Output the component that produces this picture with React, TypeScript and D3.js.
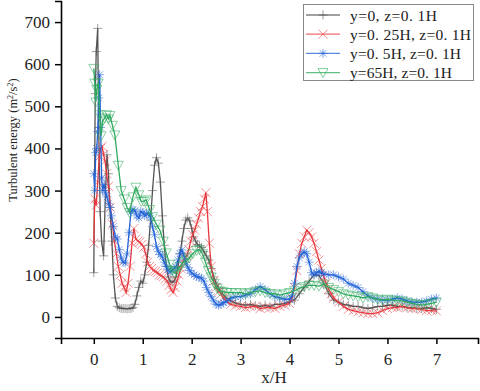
import React, { useEffect, useRef } from "react";
import * as d3 from "d3";

const W = 480;
const H = 391;
const margin = { top: 1, right: 2, bottom: 53, left: 61 };

// series: y=0, z=0.1H
const xBlack = [0.0, 0.03, 0.05, 0.08, 0.1, 0.13, 0.16, 0.2, 0.24, 0.27, 0.3, 0.33, 0.37, 0.4, 0.44, 0.48, 0.52, 0.56, 0.6, 0.64, 0.68, 0.72, 0.76, 0.8, 0.84, 0.88, 0.92, 0.96, 1.0, 1.04, 1.08, 1.12, 1.16, 1.2, 1.24, 1.28, 1.32, 1.36, 1.4, 1.44, 1.48, 1.52, 1.56, 1.6, 1.64, 1.68, 1.72, 1.76, 1.8, 1.84, 1.88, 1.92, 1.96, 2.0, 2.04, 2.08, 2.12, 2.16, 2.2, 2.25, 2.3, 2.35, 2.4, 2.45, 2.5, 2.55, 2.6, 2.7, 2.8, 2.9, 3.0, 3.1, 3.2, 3.3, 3.4, 3.5, 3.6, 3.7, 3.8, 3.9, 4.0, 4.1, 4.2, 4.3, 4.4, 4.5, 4.6, 4.7, 4.8, 4.9, 5.0, 5.1, 5.2, 5.3, 5.4, 5.5, 5.6, 5.7, 5.8, 5.9, 6.0, 6.1, 6.2, 6.3, 6.4, 6.5, 6.6, 6.7, 6.8, 6.9, 7.0];
const yBlack = [105, 530, 630, 685, 450, 250, 180, 145, 300, 385, 340, 260, 180, 100, 45, 25, 22, 20, 20, 20, 19, 20, 20, 22, 30, 50, 70, 85, 80, 100, 130, 170, 230, 300, 360, 378, 365, 320, 240, 170, 120, 95, 85, 82, 85, 95, 120, 150, 180, 210, 230, 235, 228, 210, 190, 180, 172, 168, 165, 155, 145, 135, 115, 95, 80, 68, 60, 45, 38, 33, 30, 28, 30, 27, 25, 28, 25, 30, 30, 32, 35, 40, 55, 70, 85, 100, 98, 80, 55, 40, 35, 30, 28, 25, 25, 22, 20, 22, 25, 25, 28, 28, 25, 25, 22, 22, 20, 20, 22, 20, 18];

// series: y=0.25H, z=0.1H
const xRed = [0.0, 0.02, 0.05, 0.08, 0.11, 0.14, 0.17, 0.2, 0.23, 0.26, 0.3, 0.34, 0.38, 0.42, 0.46, 0.5, 0.54, 0.58, 0.62, 0.66, 0.7, 0.74, 0.78, 0.82, 0.86, 0.9, 0.94, 0.98, 1.02, 1.06, 1.1, 1.14, 1.18, 1.22, 1.26, 1.3, 1.34, 1.38, 1.42, 1.46, 1.5, 1.54, 1.58, 1.62, 1.66, 1.7, 1.74, 1.78, 1.82, 1.86, 1.9, 1.94, 1.98, 2.02, 2.06, 2.1, 2.14, 2.18, 2.22, 2.26, 2.29, 2.32, 2.36, 2.4, 2.45, 2.5, 2.55, 2.6, 2.65, 2.7, 2.8, 2.9, 3.0, 3.1, 3.2, 3.3, 3.4, 3.5, 3.6, 3.7, 3.8, 3.9, 4.0, 4.05, 4.1, 4.15, 4.2, 4.25, 4.3, 4.35, 4.4, 4.45, 4.5, 4.55, 4.6, 4.65, 4.7, 4.75, 4.8, 4.85, 4.9, 5.0, 5.1, 5.2, 5.3, 5.4, 5.5, 5.6, 5.7, 5.8, 5.9, 6.0, 6.1, 6.2, 6.3, 6.4, 6.5, 6.6, 6.7, 6.8, 6.9, 7.0];
const yRed = [175, 280, 265, 320, 380, 400, 405, 385, 370, 340, 310, 260, 220, 180, 150, 120, 100, 80, 70, 58, 80, 120, 175, 210, 185, 180, 178, 172, 165, 150, 130, 120, 115, 110, 108, 105, 100, 98, 95, 90, 85, 75, 65, 58, 70, 85, 100, 115, 130, 140, 145, 160, 180, 195, 206, 220, 235, 250, 262, 280, 295, 250, 175, 120, 85, 70, 60, 55, 45, 38, 30, 27, 25, 22, 24, 25, 20, 22, 22, 20, 25, 28, 32, 45, 70, 110, 150, 175, 190, 206, 200, 190, 175, 155, 135, 115, 95, 80, 65, 55, 45, 35, 25, 18, 15, 12, 10, 8, 8, 10, 15, 20, 22, 22, 25, 22, 20, 20, 18, 15, 15, 14];

// series: y=0.5H, z=0.1H
const xBlue = [0.0, 0.02, 0.04, 0.06, 0.08, 0.1, 0.12, 0.14, 0.16, 0.18, 0.21, 0.24, 0.27, 0.3, 0.33, 0.36, 0.4, 0.44, 0.48, 0.52, 0.56, 0.6, 0.64, 0.68, 0.72, 0.76, 0.8, 0.84, 0.88, 0.92, 0.96, 1.0, 1.04, 1.08, 1.12, 1.16, 1.2, 1.24, 1.28, 1.32, 1.36, 1.4, 1.44, 1.48, 1.52, 1.56, 1.6, 1.64, 1.68, 1.72, 1.76, 1.8, 1.84, 1.88, 1.92, 1.96, 2.0, 2.05, 2.1, 2.15, 2.2, 2.25, 2.3, 2.35, 2.4, 2.45, 2.5, 2.55, 2.6, 2.65, 2.7, 2.8, 2.9, 3.0, 3.1, 3.2, 3.3, 3.4, 3.5, 3.6, 3.7, 3.8, 3.9, 4.0, 4.05, 4.1, 4.15, 4.2, 4.25, 4.3, 4.35, 4.4, 4.45, 4.5, 4.55, 4.6, 4.65, 4.7, 4.8, 4.9, 5.0, 5.1, 5.2, 5.3, 5.4, 5.5, 5.6, 5.7, 5.8, 5.9, 6.0, 6.1, 6.2, 6.3, 6.4, 6.5, 6.6, 6.7, 6.8, 6.9, 7.0];
const yBlue = [340, 300, 390, 400, 440, 520, 575, 450, 330, 300, 315, 295, 285, 270, 260, 240, 215, 190, 185, 160, 140, 130, 128, 150, 200, 250, 255, 252, 240, 235, 250, 248, 240, 245, 246, 235, 214, 195, 167, 155, 148, 143, 130, 120, 112, 107, 110, 115, 119, 135, 150, 159, 145, 130, 118, 110, 104, 100, 96, 94, 92, 85, 70, 58, 48, 38, 30, 28, 30, 34, 36, 44, 48, 48, 52, 55, 65, 72, 65, 55, 48, 45, 42, 42, 50, 80, 120, 140, 150, 155, 150, 130, 105, 100, 105, 108, 105, 102, 100, 100, 95, 90, 80, 75, 70, 60, 50, 45, 42, 40, 40, 42, 45, 42, 38, 35, 35, 35, 38, 42, 45];

// series: y=65H, z=0.1H
const xGreen = [0.0, 0.02, 0.04, 0.06, 0.09, 0.12, 0.15, 0.18, 0.22, 0.26, 0.3, 0.33, 0.38, 0.43, 0.5, 0.56, 0.62, 0.68, 0.73, 0.8, 0.86, 0.92, 0.97, 1.02, 1.07, 1.14, 1.2, 1.28, 1.35, 1.42, 1.48, 1.55, 1.6, 1.65, 1.7, 1.77, 1.83, 1.89, 1.95, 2.02, 2.1, 2.16, 2.22, 2.28, 2.34, 2.4, 2.46, 2.52, 2.57, 2.64, 2.72, 2.8, 2.9, 3.0, 3.1, 3.2, 3.3, 3.4, 3.5, 3.6, 3.7, 3.8, 3.9, 4.0, 4.1, 4.2, 4.3, 4.4, 4.5, 4.6, 4.7, 4.8, 4.9, 5.0, 5.1, 5.2, 5.3, 5.4, 5.5, 5.6, 5.7, 5.8, 5.9, 6.0, 6.1, 6.2, 6.3, 6.4, 6.5, 6.6, 6.7, 6.8, 6.9, 7.0];
const yGreen = [590, 555, 510, 540, 555, 480, 430, 465, 472, 480, 470, 478, 455, 432, 360, 300, 280, 260, 248, 285, 308, 290, 274, 275, 278, 255, 238, 220, 206, 180, 152, 125, 110, 104, 110, 120, 130, 135, 140, 150, 158, 160, 150, 130, 110, 95, 80, 68, 62, 60, 58, 58, 57, 58, 55, 58, 60, 62, 58, 55, 55, 52, 55, 58, 62, 68, 72, 75, 75, 73, 78, 70, 65, 60, 55, 52, 50, 48, 45, 48, 45, 42, 40, 42, 40, 38, 38, 35, 32, 30, 28, 30, 32, 35];

const seriesNames = ["y=0, z=0. 1H", "y=0. 25H, z=0. 1H", "y=0. 5H, z=0. 1H", "y=65H, z=0. 1H"];
const seriesColors = ["#555555", "#e8383d", "#2364d8", "#2faa5e"];
const seriesMarkers = ["plus", "cross", "star", "tri"];
// widths of the legend texts as they stand in the picture
const legendWidths = [87, 121, 111, 102];

const yTicks = [0, 100, 200, 300, 400, 500, 600, 700];
const xTicks = [0, 1, 2, 3, 4, 5, 6, 7];

const serif = "'Liberation Serif', 'DejaVu Serif', serif";

function markerPath(kind: string, s: number) {
  if (kind === "plus") return `M${-s},0H${s}M0,${-s}V${s}`;
  if (kind === "cross") return `M${-s},${-s}L${s},${s}M${-s},${s}L${s},${-s}`;
  if (kind === "star") {
    const d = s * 0.75;
    return `M0,${-s}V${s}M${-d},${-d}L${d},${d}M${-d},${d}L${d},${-d}M${-s},0H${s}`;
  }
  return `M${-s},${-s * 0.8}H${s}L0,${s}Z`;
}

function renderChart(svgEl: SVGSVGElement) {
  const svg = d3.select(svgEl);
  svg.selectAll("*").remove();

  const x = d3.scaleLinear().domain([-0.67, 7.85]).range([margin.left, W - margin.right]);
  const y = d3.scaleLinear().domain([-50, 750]).range([H - margin.bottom, margin.top]);

  const data = [
    xBlack.map((v, i) => [v, yBlack[i]]),
    xRed.map((v, i) => [v, yRed[i]]),
    xBlue.map((v, i) => [v, yBlue[i]]),
    xGreen.map((v, i) => [v, yGreen[i]]),
  ];

  const line = d3.line<number[]>().x(d => x(d[0])).y(d => y(d[1]));

  // lines + markers
  data.forEach((pts, k) => {
    const color = seriesColors[k];
    const g = svg.append("g");
    g.append("path")
      .datum(pts)
      .attr("fill", "none")
      .attr("stroke", color)
      .attr("stroke-width", 1.3)
      .attr("d", line);
    g.selectAll("path.m")
      .data(pts)
      .enter()
      .append("path")
      .attr("class", "m")
      .attr("transform", d => `translate(${x(d[0])},${y(d[1])})`)
      .attr("d", markerPath(seriesMarkers[k], seriesMarkers[k] === "tri" ? 5 : 4.5))
      .attr("fill", "none")
      .attr("stroke", color)
      .attr("stroke-opacity", 0.55)
      .attr("stroke-width", 1);
  });

  // axes
  const xAxis = svg.append("g").attr("transform", `translate(0,${H - margin.bottom})`);
  xAxis.call(
    d3.axisBottom(x).tickValues(d3.range(-0.5, 7.6, 0.5)).tickSize(4).tickFormat(() => "")
  );
  xAxis.call(d3.axisBottom(x).tickValues(xTicks).tickSize(6).tickPadding(9).tickFormat(d3.format("d")));
  xAxis.selectAll(".domain").attr("stroke-width", 1.6);
  xAxis.selectAll(".tick line").attr("stroke-width", 1.5);
  xAxis.selectAll("text").style("font-family", serif).style("font-size", "17px").attr("fill", "#222");

  const yAxis = svg.append("g").attr("transform", `translate(${margin.left},0)`);
  yAxis.call(d3.axisLeft(y).tickValues(d3.range(-50, 751, 50)).tickSize(4).tickFormat(() => ""));
  yAxis.call(d3.axisLeft(y).tickValues(yTicks).tickSize(6).tickPadding(5).tickFormat(d3.format("d")));
  yAxis.selectAll(".domain").attr("stroke-width", 1.6);
  yAxis.selectAll(".tick line").attr("stroke-width", 1.5);
  yAxis.selectAll("text").style("font-family", serif).style("font-size", "17px").attr("fill", "#222");

  // axis titles
  svg.append("text")
    .attr("x", 274)
    .attr("y", 383)
    .attr("text-anchor", "middle")
    .style("font-family", serif)
    .style("font-size", "17px")
    .attr("fill", "#222")
    .text("x/H");

  const yl = svg.append("text")
    .attr("transform", "translate(17,140) rotate(-90)")
    .attr("text-anchor", "middle")
    .style("font-family", serif)
    .style("font-size", "12.5px")
    .attr("fill", "#222");
  yl.append("tspan").text("Turbulent energy (m");
  yl.append("tspan").attr("dy", -4).style("font-size", "8px").text("2");
  yl.append("tspan").attr("dy", 4).text("/s");
  yl.append("tspan").attr("dy", -4).style("font-size", "8px").text("2");
  yl.append("tspan").attr("dy", 4).text(")");

  // legend
  const lg = svg.append("g");
  lg.append("rect")
    .attr("x", 303.5)
    .attr("y", 4.5)
    .attr("width", 170)
    .attr("height", 76)
    .attr("fill", "white")
    .attr("stroke", "#888")
    .attr("stroke-width", 1);
  seriesNames.forEach((name, k) => {
    const cy = 15 + k * 19.2;
    lg.append("line")
      .attr("x1", 306).attr("x2", 340)
      .attr("y1", cy).attr("y2", cy)
      .attr("stroke", seriesColors[k])
      .attr("stroke-width", 1.3)
      .attr("stroke-opacity", 0.75);
    lg.append("path")
      .attr("transform", `translate(323,${cy})`)
      .attr("d", markerPath(seriesMarkers[k], seriesMarkers[k] === "tri" ? 5 : 4.5))
      .attr("fill", "none")
      .attr("stroke", seriesColors[k])
      .attr("stroke-opacity", 0.6);
    const t = lg.append("text")
      .attr("x", 0)
      .attr("y", 0)
      .attr("transform", `translate(350,${cy + 5.5})`)
      .style("font-family", serif)
      .style("font-size", "15.5px")
      .attr("fill", "#222")
      .text(name);
    // widen the text to the width it has in the picture
    const len = (t.node() as SVGTextElement).getComputedTextLength();
    if (len > 0) {
      const gap = (legendWidths[k] - len) / Math.max(1, name.length - 1);
      if (gap > 0) t.style("letter-spacing", `${gap}px`);
    }
  });
}

export default function App() {
  const svgRef = useRef<SVGSVGElement>(null);

  useEffect(() => {
    if (svgRef.current) renderChart(svgRef.current);
  }, []);

  return (
    <svg
      ref={svgRef}
      width={W}
      height={H}
      style={{ position: "absolute", left: 0, top: 0, background: "white" }}
    ></svg>
  );
}
